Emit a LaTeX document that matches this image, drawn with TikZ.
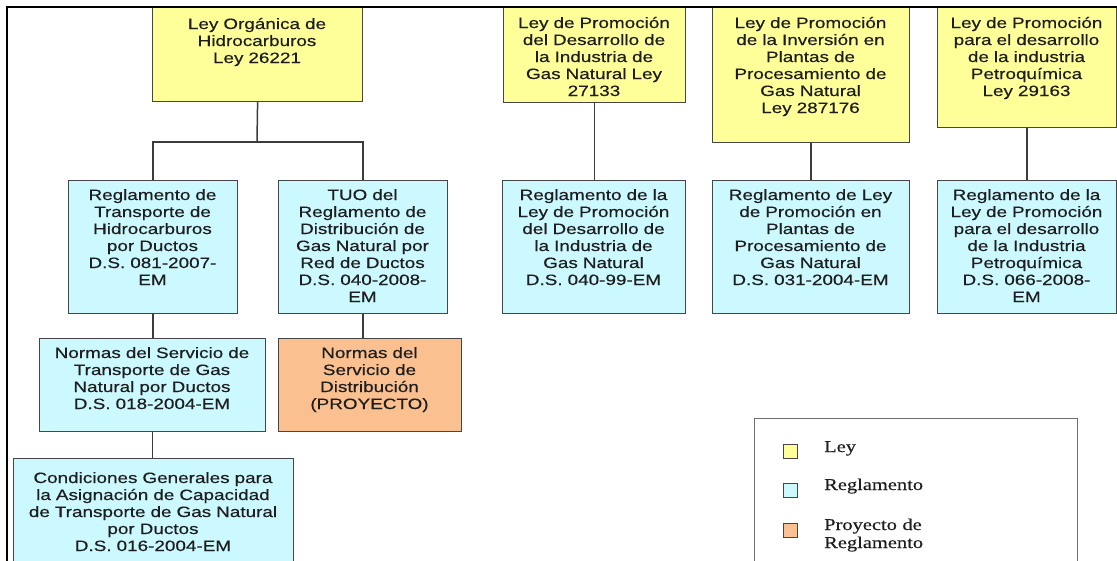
\documentclass[tikz,border=0pt]{standalone}
\usepackage{fontspec}
\setmainfont{Liberation Sans}[FakeStretch=1.26,FakeBold=0.4]
\newfontfamily\legfont{Liberation Serif}[FakeStretch=1.24,FakeBold=0.4]
\definecolor{leyc}{RGB}{255,255,153}
\definecolor{regc}{RGB}{204,249,255}
\definecolor{proc}{RGB}{250,192,143}
\definecolor{boxline}{RGB}{70,70,70}
\definecolor{conc}{RGB}{60,60,60}
\definecolor{txtc}{RGB}{30,30,30}
\definecolor{leggray}{RGB}{110,110,110}
\begin{document}
\begin{tikzpicture}[x=1pt,y=-1pt,
  bx/.style={draw=boxline, line width=1.2pt, inner sep=0pt, anchor=north west},
  ley/.style={bx, fill=leyc},
  reg/.style={bx, fill=regc},
  pro/.style={bx, fill=proc},
  txt/.style={anchor=base, inner sep=0pt, align=center, text=txtc, font=\fontsize{15}{17}\selectfont},
  con/.style={draw=conc, line width=1.5pt},
  legsq/.style={draw=boxline, line width=1pt, minimum size=14pt, inner sep=0pt},
  legtxt/.style={anchor=base west, inner sep=0pt, align=left, text=txtc, font=\legfont\fontsize{16.5}{18}\selectfont}]
\useasboundingbox (0,0) rectangle (1117,560);
\clip (0,0) rectangle (1117,560);
\fill[white] (0,0) rectangle (1117,560);

% boxes
\node[ley, minimum width=210pt, minimum height=94pt] (A) at (152,7) {};
\node[ley, minimum width=182pt, minimum height=95pt] (G) at (503,7) {};
\node[ley, minimum width=197pt, minimum height=135pt] (H) at (712,7) {};
\node[ley, minimum width=179pt, minimum height=120pt] (I) at (937,7) {};
\node[reg, minimum width=169pt, minimum height=133pt] (B) at (68,180) {};
\node[reg, minimum width=169pt, minimum height=133pt] (C) at (278,180) {};
\node[reg, minimum width=183pt, minimum height=133pt] (Gp) at (502,180) {};
\node[reg, minimum width=197pt, minimum height=133pt] (Hp) at (712,180) {};
\node[reg, minimum width=179pt, minimum height=133pt] (Ip) at (937,180) {};
\node[reg, minimum width=226pt, minimum height=93pt] (D) at (39,338) {};
\node[pro, minimum width=183pt, minimum height=93pt] (E) at (278,338) {};
\node[reg, minimum width=280pt, minimum height=120pt] (F) at (13,458) {};

% texts
\node[txt, text width=206pt] (At) at (257,29) {Ley Orgánica de\\Hidrocarburos\\Ley 26221};
\node[txt, text width=178pt] (Gt) at (594,28) {Ley de Promoción\\del Desarrollo de\\la Industria de\\Gas Natural Ley\\27133};
\node[txt, text width=193pt] (Ht) at (810.5,28) {Ley de Promoción\\de la Inversión en\\Plantas de\\Procesamiento de\\Gas Natural\\Ley 287176};
\node[txt, text width=175pt] (It) at (1026.5,28) {Ley de Promoción\\para el desarrollo\\de la industria\\Petroquímica\\Ley 29163};
\node[txt, text width=165pt] (Bt) at (152.5,200) {Reglamento de\\Transporte de\\Hidrocarburos\\por Ductos\\D.S. 081-2007-\\EM};
\node[txt, text width=165pt] (Ct) at (362.5,200) {TUO del\\Reglamento de\\Distribución de\\Gas Natural por\\Red de Ductos\\D.S. 040-2008-\\EM};
\node[txt, text width=179pt] (Gpt) at (593.5,200) {Reglamento de la\\Ley de Promoción\\del Desarrollo de\\la Industria de\\Gas Natural\\D.S. 040-99-EM};
\node[txt, text width=193pt] (Hpt) at (810.5,200) {Reglamento de Ley\\de Promoción en\\Plantas de\\Procesamiento de\\Gas Natural\\D.S. 031-2004-EM};
\node[txt, text width=175pt] (Ipt) at (1026.5,200) {Reglamento de la\\Ley de Promoción\\para el desarrollo\\de la Industria\\Petroquímica\\D.S. 066-2008-\\EM};
\node[txt, text width=222pt] (Dt) at (152,358) {Normas del Servicio de\\Transporte de Gas\\Natural por Ductos\\D.S. 018-2004-EM};
\node[txt, text width=179pt] (Et) at (369.5,358) {Normas del\\Servicio de\\Distribución\\(PROYECTO)};
\node[txt, text width=276pt] (Ft) at (153,483) {Condiciones Generales para\\la Asignación de Capacidad\\de Transporte de Gas Natural\\por Ductos\\D.S. 016-2004-EM};

% connectors
\coordinate (J) at (257,142);
\draw[con] (A.south) -- (J);
\draw[con] (B.north) |- (J) -| (C.north);
\draw[con] (G.south) -- (G.south |- Gp.north);
\draw[con] (H.south) -- (Hp.north);
\draw[con] (I.south) -- (Ip.north);
\draw[con] (B.south) -- (B.south |- D.north);
\draw[con] (C.south) -- (C.south |- E.north);
\draw[con] (D.south) -- (D.south |- F.north);

% legend
\node[draw=leggray, line width=1.2pt, minimum width=323pt, minimum height=170pt, inner sep=0pt, anchor=north west] (L) at (754,418) {};
\node[legsq, fill=leyc] (s1) at (790,451) {};
\node[legsq, fill=regc] (s2) at (790,490) {};
\node[legsq, fill=proc] (s3) at (790,530) {};
\node[legtxt] (l1) at (824,452) {Ley};
\node[legtxt] (l2) at (824,490) {Reglamento};
\node[legtxt, text width=110pt] (l3) at (824,530) {Proyecto de\\Reglamento};

% frame
\draw[line width=2.6pt] (7,562) -- (7,7) -- (1119,7);
\end{tikzpicture}
\end{document}
